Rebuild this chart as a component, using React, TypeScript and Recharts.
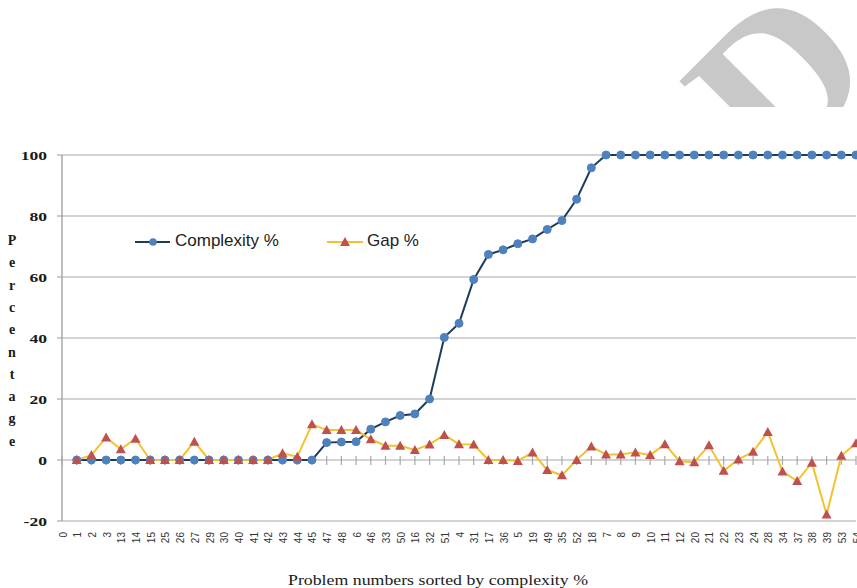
import React from 'react';
import { LineChart, Line, XAxis, YAxis, CartesianGrid, ReferenceLine, Legend } from 'recharts';

const categories = ['0','1','2','3','13','14','15','25','26','27','29','30','40','41','42','43','44','45','47','48','6','46','33','50','16','32','51','4','31','17','36','5','19','49','35','52','18','7','8','9','10','11','12','20','21','22','23','24','28','34','37','38','39','53','54'];

const complexity: (number | null)[] = [
  null,
  0, 0, 0, 0, 0, 0, 0, 0, 0, 0, 0, 0, 0, 0, 0, 0, 0,
  5.7, 5.9, 6.0, 10.1, 12.5, 14.6, 15.1, 20.0, 40.2, 44.8, 59.2, 67.4, 68.9, 70.9, 72.5, 75.6, 78.5, 85.5, 95.8,
  100, 100, 100, 100, 100, 100, 100, 100, 100, 100, 100, 100, 100, 100, 100, 100, 100, 100,
];

const gap: (number | null)[] = [
  null,
  0, 1.6, 7.4, 3.5, 7.0, 0, 0, 0, 6.0, 0, 0, 0, 0, 0, 2.2, 1.1, 11.7, 9.8, 9.8, 9.8,
  6.8, 4.7, 4.7, 3.3, 5.1, 8.2, 5.2, 5.1, 0, 0, -0.3, 2.5, -3.3, -5.0, 0, 4.4, 1.8, 1.8, 2.5, 1.6,
  5.2, -0.4, -0.7, 4.8, -3.5, 0.2, 2.7, 9.2, -3.8, -6.9, -0.9, -17.9, 1.4, 5.5,
];

const yTicks = [-20, 0, 20, 40, 60, 80, 100];
const yTitle = 'Percentage';
const xTitle = 'Problem numbers sorted by complexity %';
const seriesNames = { complexity: 'Complexity %', gap: 'Gap %' };

const data = categories.map((c, i) => ({ cat: c, complexity: complexity[i], gap: gap[i] }));

const BLUE = '#4F81BD';
const NAVY = '#1F3B5C';
const YELLOW = '#F2C230';
const RED = '#C0504D';
const GRID = '#A8A8A8';

const XTick = (props: any) => {
  const { x, y, payload } = props;
  const px = x + 1;
  return (
    <text x={px} y={y} transform={`rotate(-90, ${px}, ${y})`} textAnchor="end" dy="0.35em"
      fontSize={10} fontFamily="'Liberation Sans', Arial, sans-serif" fill="#333">
      {payload.value}
    </text>
  );
};

const YTick = (props: any) => {
  const { x, y, payload } = props;
  return (
    <text transform={`translate(${x},${y}) scale(1.35,1)`} x={0} y={0} textAnchor="end" dy="0.35em"
      fontSize={13} fontWeight="bold" fontFamily="'Liberation Serif', 'Times New Roman', serif" fill="#1a1a1a">
      {payload.value}
    </text>
  );
};

const Triangle = (props: any) => {
  const { cx, cy, value, index } = props;
  if (cx == null || cy == null || value == null || Number.isNaN(cy)) return <g key={`t-${index}`} />;
  return (
    <polygon key={`t-${index}`} points={`${cx},${cy - 5} ${cx + 5},${cy + 4} ${cx - 5},${cy + 4}`} fill={RED} />
  );
};

const LegendContent = () => (
  <div style={{ position: 'relative', width: 320, height: 24, fontFamily: "'Liberation Sans', Arial, sans-serif", fontSize: 17, color: '#222' }}>
    <svg width={40} height={24} style={{ position: 'absolute', left: 0, top: 0 }}>
      <line x1={0} y1={12} x2={35} y2={12} stroke={NAVY} strokeWidth={2} />
      <circle cx={18} cy={12} r={3.8} fill={BLUE} />
    </svg>
    <span style={{ position: 'absolute', left: 40, top: 1, whiteSpace: 'nowrap' }}>{seriesNames.complexity}</span>
    <svg width={40} height={24} style={{ position: 'absolute', left: 192, top: 0 }}>
      <line x1={0} y1={12} x2={36} y2={12} stroke={YELLOW} strokeWidth={2} />
      <polygon points="18,7 23,16 13,16" fill={RED} />
    </svg>
    <span style={{ position: 'absolute', left: 232, top: 1, whiteSpace: 'nowrap' }}>{seriesNames.gap}</span>
  </div>
);

export default function App() {
  return (
    <div style={{ position: 'fixed', left: 0, top: 0, width: 857, height: 588, overflow: 'hidden', background: '#fff' }}>
      <div style={{ position: 'absolute', left: 0, top: 0, width: 857, height: 107, overflow: 'hidden' }}>
        <svg width={857} height={107}>
          <text transform="translate(774,181) rotate(-45)" fontSize={210} fontWeight="bold"
            fontFamily="'Liberation Serif', 'Times New Roman', serif" fill="#C8C8C8">D</text>
        </svg>
      </div>
      <div style={{ position: 'absolute', left: 0, top: 0 }}>
        <LineChart width={880} height={588} data={data} margin={{ top: 155, right: 24, left: 0, bottom: 27 }}>
          <CartesianGrid vertical={false} stroke={GRID} strokeWidth={1.2} />
          <XAxis dataKey="cat" interval={0} axisLine={false} tickLine={false} tickSize={0} tickMargin={11}
            height={40} tick={<XTick />} />
          <YAxis domain={[-20, 100]} ticks={yTicks} interval={0} width={62} axisLine={{ stroke: GRID, strokeWidth: 1.5 }}
            tickLine={{ stroke: GRID, strokeWidth: 1.2 }} tickSize={5} tickMargin={10} tick={<YTick />} />
          {categories.map((c) => (
            <ReferenceLine key={`tk-${c}`} segment={[{ x: c, y: 1.3 }, { x: c, y: -1.6 }]} stroke={GRID} strokeWidth={1.2} />
          ))}
          <Legend layout="horizontal" verticalAlign="middle" align="center" content={<LegendContent />}
            wrapperStyle={{ position: 'absolute', left: 135, top: 230, width: 320, height: 24 }} />
          <Line type="linear" dataKey="complexity" name={seriesNames.complexity} stroke={NAVY} strokeWidth={2}
            dot={{ r: 4, fill: BLUE, stroke: BLUE, strokeWidth: 1 }} isAnimationActive={false} />
          <Line type="linear" dataKey="gap" name={seriesNames.gap} stroke={YELLOW} strokeWidth={2}
            dot={<Triangle />} isAnimationActive={false} />
        </LineChart>
      </div>
      <svg width={857} height={588} style={{ position: 'absolute', left: 0, top: 0, pointerEvents: 'none' }}>
        {yTitle.split('').map((ch, i) => (
          <text key={i} x={12} y={245 + i * 22.3} textAnchor="middle" fontSize={14} fontWeight="bold"
            fontFamily="'Liberation Serif', 'Times New Roman', serif" fill="#1a1a1a">{ch}</text>
        ))}
        <text x={288} y={585} textLength={300} lengthAdjust="spacingAndGlyphs" fontSize={15}
          fontFamily="'Liberation Serif', 'Times New Roman', serif" fill="#1a1a1a">{xTitle}</text>
      </svg>
    </div>
  );
}
